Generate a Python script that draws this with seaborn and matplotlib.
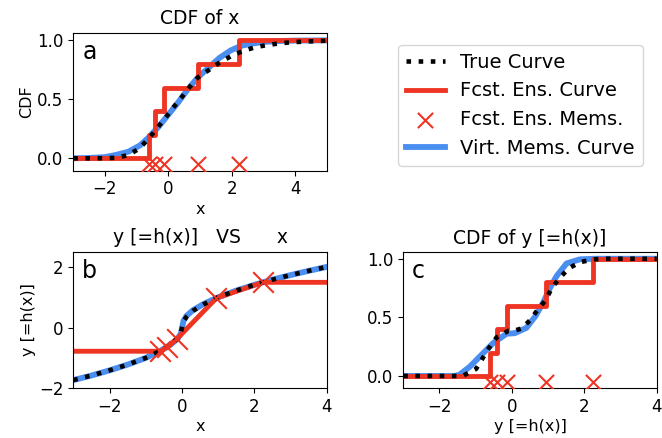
import matplotlib
matplotlib.use("Agg")
import matplotlib.pyplot as plt
import seaborn as sns

# forecast ensemble members (x) and their mapped values h(x)
members_x = [-0.6, -0.42, -0.14, 0.95, 2.23]
members_hx = [-0.78, -0.65, -0.37, 0.97, 1.49]
ens_cdf = [0.2, 0.4, 0.6, 0.8, 1.0]

# panel a: CDF of x
a_true_x = [-3, -2.5, -2, -1.63, -1.26, -0.92, -0.61, -0.37, -0.1, 0.14, 0.4, 0.66,
            0.93, 1.26, 1.61, 1.97, 2.32, 2.72, 3.11, 3.53, 3.95, 4.37, 5]
a_true_y = [0, 0, 0.001, 0.005, 0.028, 0.082, 0.17, 0.25, 0.34, 0.425, 0.51, 0.60,
            0.685, 0.745, 0.81, 0.864, 0.906, 0.94, 0.96, 0.975, 0.985, 0.99, 0.997]
a_virt_x = [-3, -2.5, -2, -1.63, -1.26, -0.89, -0.61, -0.3, 0, 0.3, 0.6, 0.95, 1.26,
            1.61, 1.97, 2.32, 2.7, 3.1, 3.5, 4, 5]
a_virt_y = [0, 0.003, 0.01, 0.03, 0.056, 0.11, 0.18, 0.27, 0.37, 0.47, 0.58, 0.69, 0.765,
            0.85, 0.915, 0.955, 0.975, 0.988, 0.994, 0.998, 1.0]

# panel b: y = h(x)
b_true_x = [-3, -2.5, -2, -1.5, -1, -0.6, -0.3, -0.12, -0.04, 0, 0.04, 0.12, 0.3, 0.6,
            1, 1.5, 2, 2.5, 3, 3.5, 4]
b_true_y = [-1.73, -1.58, -1.41, -1.22, -1.0, -0.77, -0.55, -0.35, -0.2, 0.0, 0.2, 0.35,
            0.55, 0.77, 1.0, 1.22, 1.41, 1.58, 1.73, 1.87, 2.0]
b_virt_y = [-1.73, -1.58, -1.41, -1.22, -1.0, -0.77, -0.55, -0.36, -0.22, -0.02, 0.22,
            0.38, 0.57, 0.78, 1.0, 1.22, 1.41, 1.58, 1.73, 1.87, 2.0]

# panel c: CDF of y
c_true_x = [-3, -2, -1.5, -1.35, -0.99, -0.81, -0.63, -0.42, -0.1, 0.1, 0.27, 0.5, 0.7,
            0.94, 1.1, 1.33, 1.58, 1.88, 2.25, 2.6, 3, 4]
c_true_y = [0, 0, 0, 0.002, 0.06, 0.15, 0.24, 0.33, 0.385, 0.39, 0.405, 0.475, 0.56,
            0.65, 0.75, 0.84, 0.92, 0.97, 0.995, 1.0, 1.0, 1.0]
c_virt_x = [-3, -1.6, -1.45, -1.16, -0.84, -0.52, -0.15, 0.08, 0.4, 0.65, 0.87, 1.05,
            1.23, 1.51, 1.88, 2.3, 4]
c_virt_y = [0, 0, 0.01, 0.08, 0.18, 0.28, 0.36, 0.365, 0.41, 0.51, 0.63, 0.75,
            0.85, 0.96, 0.995, 1.0, 1.0]

RED = "#ee3524"
BLUE = "#4a8ef0"
RUG_Y = -0.05

plt.rcParams["font.size"] = 11.5
plt.rcParams["axes.labelpad"] = 2.5

fig = plt.figure(figsize=(6.62, 4.38), dpi=100)
ax_a = fig.add_axes([0.1107, 0.6103, 0.3828, 0.3151])
ax_b = fig.add_axes([0.1107, 0.1135, 0.3832, 0.3119])
ax_c = fig.add_axes([0.6092, 0.1135, 0.3828, 0.3105])


def cdf_panel(ax, tx, ty, vx, vy, xmax):
    sns.lineplot(x=vx, y=vy, ax=ax, color=BLUE, lw=4.2, zorder=1, estimator=None,
                 label="Virt. Mems. Curve", legend=False)
    sx = [-3] + members_x + [xmax]
    sy = [0] + ens_cdf + [1.0]
    sns.lineplot(x=sx, y=sy, ax=ax, color=RED, lw=3.5, zorder=2, estimator=None,
                 drawstyle="steps-post", label="Fcst. Ens. Curve", legend=False)
    sns.lineplot(x=tx, y=ty, ax=ax, color="black", lw=3.3, linestyle=":", zorder=3,
                 estimator=None, label="True Curve", legend=False)
    sns.scatterplot(x=members_x, y=[RUG_Y] * len(members_x), ax=ax, marker="x", s=120,
                    color=RED, linewidth=1.5, zorder=4, label="Fcst. Ens. Mems.", legend=False)
    ax.set_xlim(-3, xmax)
    ax.set_yticks([0, 0.5, 1.0])


cdf_panel(ax_a, a_true_x, a_true_y, a_virt_x, a_virt_y, 5)
ax_a.set_ylim(-0.105, 1.065)
ax_a.set_title("CDF of x", fontsize=13.5)
ax_a.set_xlabel("x")
ax_a.set_ylabel("CDF")
ax_a.set_xticks([-2, 0, 2, 4])

cdf_panel(ax_c, c_true_x, c_true_y, c_virt_x, c_virt_y, 4)
ax_c.set_ylim(-0.105, 1.055)
ax_c.set_title("CDF of y [=h(x)]", fontsize=13.5)
ax_c.set_xlabel("y [=h(x)]")
ax_c.set_xticks([-2, 0, 2, 4])

# panel b
sns.lineplot(x=b_true_x, y=b_virt_y, ax=ax_b, color=BLUE, lw=4.2, zorder=1, estimator=None)
rx = [-3] + members_x + [4]
ry = [members_hx[0]] + members_hx + [members_hx[-1]]
sns.lineplot(x=rx, y=ry, ax=ax_b, color=RED, lw=3.5, zorder=2, estimator=None)
sns.lineplot(x=b_true_x, y=b_true_y, ax=ax_b, color="black", lw=3.3, linestyle=":",
             zorder=3, estimator=None)
sns.scatterplot(x=members_x, y=members_hx, ax=ax_b, marker="x", s=220, color=RED,
                linewidth=1.5, zorder=4)
ax_b.set_xlim(-3, 4)
ax_b.set_ylim(-2, 2.5)
ax_b.set_xticks([-2, 0, 2, 4])
ax_b.set_yticks([-2, 0, 2])
ax_b.set_title("y [=h(x)]   VS      x", fontsize=13.5)
ax_b.set_xlabel("x")
ax_b.set_ylabel("y [=h(x)]")

for ax, letter in [(ax_a, "a"), (ax_b, "b"), (ax_c, "c")]:
    ax.text(0.035, 0.86, letter, transform=ax.transAxes, fontsize=17, va="center", ha="left")
    ax.tick_params(labelsize=12)

handles, labels = ax_a.get_legend_handles_labels()
lookup = dict(zip(labels, handles))
order = ["True Curve", "Fcst. Ens. Curve", "Fcst. Ens. Mems.", "Virt. Mems. Curve"]
fig.legend([lookup[k] for k in order], order, loc="upper left",
           bbox_to_anchor=(398 / 662, 1 - 45 / 438), borderaxespad=0, fontsize=14)

fig.savefig("out.png", dpi=100)
